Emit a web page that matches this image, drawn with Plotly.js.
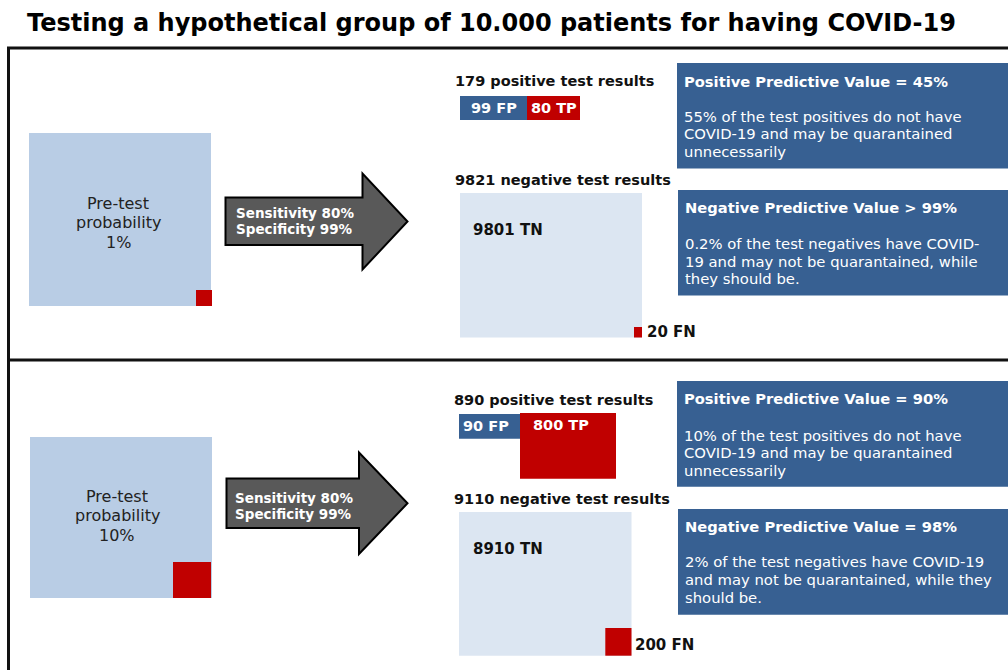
<!DOCTYPE html>
<html>
<head>
<meta charset="utf-8">
<script src="https://cdn.plot.ly/plotly-3.0.1.min.js"></script>
<style>html,body{margin:0;padding:0;background:#fff;}#chart{width:1008px;height:670px;}</style>
</head>
<body>
<div id="chart"></div>
<script>
// ---- Data ----
const groupSize = '10.000';
const prevalencePct = [1, 10];
const sensitivityPct = [80, 80];
const specificityPct = [99, 99];
const falsePos = [99, 90];
const truePos = [80, 800];
const trueNeg = [9801, 8910];
const falseNeg = [20, 200];
const posTotals = [179, 890];
const negTotals = [9821, 9110];
const ppvTitles = ['Positive Predictive Value = 45%', 'Positive Predictive Value = 90%'];
const ppvTexts = [
  ['55% of the test positives do not have', 'COVID-19 and may be quarantained', 'unnecessarily'],
  ['10% of the test positives do not have', 'COVID-19 and may be quarantained', 'unnecessarily']
];
const npvTitles = ['Negative Predictive Value > 99%', 'Negative Predictive Value = 98%'];
const npvTexts = [
  ['0.2% of the test negatives have COVID-', '19 and may not be quarantained, while', 'they should be.'],
  ['2% of the test negatives have COVID-19', 'and may not be quarantained, while they', 'should be.']
];

// ---- Layout geometry (pixel positions on a 1008x670 canvas) ----
const geom = [
  {
    pre: [29, 211, 133, 306], preRed: [196, 212, 290, 306], preText: [118, 203.3, 19.4],
    arrow: {x0: 225.5, neck: 362.5, tip: 407.5, top: 197.5, bot: 245, hTop: 173.5, hBot: 269.5, mid: 221.5},
    arrowText: [236.5, 212.7, 16.3],
    posHeader: [456, 81],
    fp: [460, 527, 96, 120], fpText: [493.5, 108],
    tp: [527, 580, 96, 120], tpText: [553.5, 108],
    ppvBox: [677, 1012, 63, 168.5], ppvTitle: [684.5, 81], ppvBody: [684.5, 116, 17.9],
    negHeader: [456, 180],
    tn: [460, 642, 193, 337.5], tnText: [474, 229.7],
    fn: [634, 642, 327, 337.5], fnText: [648, 332],
    npvBox: [678, 1012, 190, 295.5], npvTitle: [686, 207.7], npvBody: [686, 243.7, 17.4]
  },
  {
    pre: [30, 212, 437, 598], preRed: [173, 211, 562, 598], preText: [117, 496.3, 19.5],
    arrow: {x0: 226.5, neck: 359, tip: 407.5, top: 478.5, bot: 528, hTop: 452.5, hBot: 554, mid: 503.3},
    arrowText: [236, 498.3, 16],
    posHeader: [455, 399.7],
    fp: [459, 520, 414, 438.7], fpText: [485.5, 426],
    tp: [520, 616, 413, 478.7], tpText: [560.5, 424.5],
    ppvBox: [677, 1012, 381, 486.7], ppvTitle: [684.5, 398.7], ppvBody: [684.5, 435, 17.6],
    negHeader: [455, 498.7],
    tn: [459, 631.5, 512, 655.7], tnText: [474, 548.7],
    fn: [605.3, 631.5, 628, 655.7], fnText: [636, 645],
    npvBox: [678, 1012, 509, 614.7], npvTitle: [686, 526.7], npvBody: [686, 561.7, 18]
  }
];

const C = {
  pre: '#b9cde5', red: '#c00000', blue: '#376092', tn: '#dce6f2',
  arrow: '#595959', ink: '#111111', text: '#222222'
};
const FONT = 'DejaVu Sans, Verdana, sans-serif';
const XPAD = 3; // annotation inner padding compensation for left-anchored text

const shapes = [];
const annotations = [];

function rect(r, color) {
  shapes.push({type: 'rect', xref: 'x', yref: 'y', x0: r[0], x1: r[1], y0: r[2], y1: r[3],
    fillcolor: color, line: {width: 0}, layer: 'above'});
}
function text(x, y, str, opts) {
  opts = opts || {};
  const xa = opts.xanchor || 'left';
  annotations.push({
    xref: 'x', yref: 'y', x: xa === 'left' ? x - XPAD : x, y: y, text: str, showarrow: false,
    xanchor: xa, yanchor: 'middle', align: 'left',
    font: {family: FONT, size: opts.size || 14, color: opts.color || C.ink}
  });
}
function lines(spec, arr, opts) {
  arr.forEach((s, k) => text(spec[0], spec[1] + k * spec[2], s, opts));
}

// Frame
shapes.push({type: 'rect', xref: 'x', yref: 'y', x0: 8.5, x1: 1020, y0: 48, y1: 700,
  line: {color: C.ink, width: 3}, fillcolor: 'rgba(0,0,0,0)'});
shapes.push({type: 'line', xref: 'x', yref: 'y', x0: 8.5, x1: 1020, y0: 360, y1: 360,
  line: {color: C.ink, width: 3}});

geom.forEach((g, i) => {
  // Pre-test population square with diseased share
  rect(g.pre, C.pre);
  rect(g.preRed, C.red);
  lines(g.preText, ['Pre-test', 'probability', prevalencePct[i] + '%'],
    {xanchor: 'center', size: 16, color: C.text});

  // Arrow
  const a = g.arrow;
  const path = `M ${a.x0},${a.top} L ${a.neck},${a.top} L ${a.neck},${a.hTop} L ${a.tip},${a.mid} ` +
    `L ${a.neck},${a.hBot} L ${a.neck},${a.bot} L ${a.x0},${a.bot} Z`;
  shapes.push({type: 'path', xref: 'x', yref: 'y', path: path, fillcolor: C.arrow,
    line: {color: '#000000', width: 2}, layer: 'above'});
  lines(g.arrowText, ['<b>Sensitivity ' + sensitivityPct[i] + '%</b>', '<b>Specificity ' + specificityPct[i] + '%</b>'],
    {size: 13.5, color: '#ffffff'});

  // Positive results
  text(g.posHeader[0], g.posHeader[1], '<b>' + posTotals[i] + ' positive test results</b>', {size: 14.5});
  rect(g.fp, C.blue);
  rect(g.tp, C.red);
  text(g.fpText[0], g.fpText[1], '<b>' + falsePos[i] + ' FP</b>', {xanchor: 'center', color: '#ffffff', size: 14.5});
  text(g.tpText[0], g.tpText[1], '<b>' + truePos[i] + ' TP</b>', {xanchor: 'center', color: '#ffffff', size: 14.5});

  // PPV box
  rect(g.ppvBox, C.blue);
  text(g.ppvTitle[0], g.ppvTitle[1], '<b>' + ppvTitles[i] + '</b>', {color: '#ffffff', size: 14.7});
  lines(g.ppvBody, ppvTexts[i], {color: '#ffffff', size: 14.8});

  // Negative results
  text(g.negHeader[0], g.negHeader[1], '<b>' + negTotals[i] + ' negative test results</b>', {size: 14.5});
  rect(g.tn, C.tn);
  rect(g.fn, C.red);
  text(g.tnText[0], g.tnText[1], '<b>' + trueNeg[i] + ' TN</b>', {size: 15});
  text(g.fnText[0], g.fnText[1], '<b>' + falseNeg[i] + ' FN</b>', {size: 15});

  // NPV box
  rect(g.npvBox, C.blue);
  text(g.npvTitle[0], g.npvTitle[1], '<b>' + npvTitles[i] + '</b>', {color: '#ffffff', size: 14.7});
  lines(g.npvBody, npvTexts[i], {color: '#ffffff', size: 14.8});
});

const layout = {
  width: 1008, height: 670,
  margin: {l: 0, r: 0, t: 0, b: 0, pad: 0},
  paper_bgcolor: '#ffffff', plot_bgcolor: '#ffffff',
  showlegend: false,
  title: {
    text: '<b>Testing a hypothetical group of ' + groupSize + ' patients for having COVID-19</b>',
    xref: 'container', yref: 'container', x: 27 / 1008, xanchor: 'left',
    y: 1 - 22.5 / 670, yanchor: 'middle',
    font: {family: FONT, size: 24, color: '#000000'}
  },
  xaxis: {range: [0, 1008], visible: false, fixedrange: true},
  yaxis: {range: [670, 0], visible: false, fixedrange: true},
  shapes: shapes,
  annotations: annotations
};

Plotly.newPlot('chart', [{type: 'scatter', x: [], y: [], hoverinfo: 'skip'}], layout,
  {staticPlot: true, displayModeBar: false});
</script>
</body>
</html>
